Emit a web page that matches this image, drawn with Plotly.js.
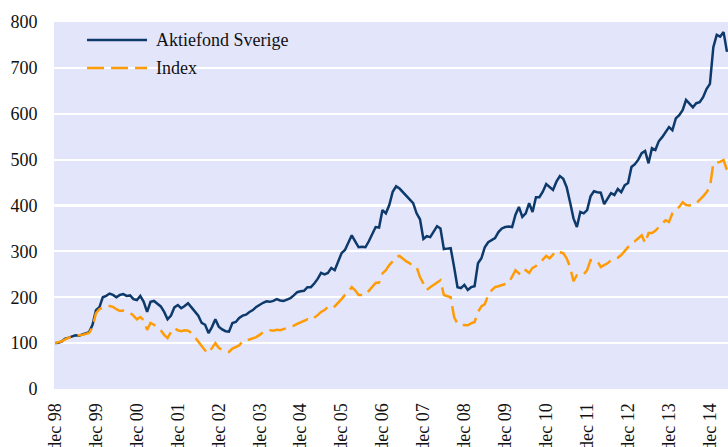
<!DOCTYPE html>
<html>
<head>
<meta charset="utf-8">
<script src="https://cdn.plot.ly/plotly-3.0.1.min.js"></script>
<style>html,body{margin:0;padding:0;background:#fff;}#chart{width:728px;height:447px;}</style>
</head>
<body>
<div id="chart"></div>
<script>
// Month index 0 = dec 98
const seriesNames = ["Aktiefond Sverige", "Index"];
const tickMonths = [0,12,24,36,48,60,72,84,96,108,120,132,144,156,168,180,192];
const tickLabels = ["dec 98","dec 99","dec 00","dec 01","dec 02","dec 03","dec 04","dec 05","dec 06","dec 07","dec 08","dec 09","dec 10","dec 11","dec 12","dec 13","dec 14"];

const fund = [
100,101,104,110,112,115,117,116,119,121,124,140,
172,178,200,203,208,205,200,205,207,203,204,196,
194,203,190,168,190,192,186,180,168,152,160,178,
183,176,181,187,178,170,160,144,140,122,135,152,
136,130,126,125,144,146,155,160,162,168,172,179,
184,188,191,190,192,196,193,192,195,198,204,211,
213,214,222,222,230,240,253,250,253,264,259,278,
296,303,320,335,322,309,310,309,322,338,353,352,
390,383,401,430,442,437,429,420,412,405,383,370,
327,333,331,344,355,350,305,306,307,266,222,220,
227,216,222,224,274,285,309,320,325,329,342,350,
353,354,353,380,397,375,383,405,386,418,418,430,
447,440,434,452,464,458,440,407,372,353,386,383,
390,420,431,429,428,403,415,427,423,436,429,444,
449,484,490,500,514,519,492,525,521,540,549,560,
571,564,590,597,608,630,621,614,623,625,636,654,
665,745,772,768,778,735
];

const index = [
100,102,104,108,112,114,116,117,118,120,122,135,
165,174,178,181,181,179,174,170,171,168,166,160,
152,157,150,129,144,140,135,128,118,111,124,133,
128,126,128,127,122,113,104,94,84,78,90,100,
90,85,82,81,88,92,95,104,107,108,111,113,
118,124,126,128,127,129,128,130,133,136,138,142,
145,148,152,150,155,161,168,172,179,176,180,187,
196,205,212,222,215,205,205,205,214,222,231,232,
252,259,270,278,288,290,283,278,274,268,266,244,
230,216,222,227,233,237,205,203,200,157,142,140,
139,139,143,146,168,180,185,205,215,222,224,227,
229,231,246,259,252,248,259,253,264,268,274,282,
290,285,292,301,298,296,285,266,235,248,248,250,
259,281,280,279,266,270,274,281,283,286,292,300,
308,318,322,329,335,318,340,340,345,353,360,368,
364,383,390,397,407,401,400,401,405,412,420,429,
440,492,494,495,499,477
];

const months = fund.map((_, i) => i);

const fundColor = "#0d3a6b";
const indexColor = "#ff9c05";
const fontFamily = "Liberation Serif, Times New Roman, serif";

const traces = [
  {x: months, y: fund, name: seriesNames[0], type: "scatter", mode: "lines",
   line: {color: fundColor, width: 2.5}, showlegend: false, cliponaxis: true},
  {x: months, y: index, name: seriesNames[1], type: "scatter", mode: "lines",
   line: {color: indexColor, width: 2.5, dash: "17px,7px"}, showlegend: false, cliponaxis: true}
];

const layout = {
  width: 728, height: 447,
  margin: {l: 54, r: 0, t: 22, b: 58, pad: 0},
  paper_bgcolor: "#ffffff",
  plot_bgcolor: "#e3e5fb",
  font: {family: fontFamily, size: 18, color: "#111111"},
  xaxis: {
    range: [-0.3, 197.3],
    tickmode: "array", tickvals: tickMonths, ticktext: tickLabels,
    tickangle: -90, showgrid: false, zeroline: false, showline: false,
    ticks: "outside", ticklen: 6, tickcolor: "rgba(0,0,0,0)",
    tickfont: {family: fontFamily, size: 18, color: "#111111"}
  },
  yaxis: {
    range: [0, 800], tickmode: "array",
    tickvals: [0,100,200,300,400,500,600,700,800],
    showgrid: true, gridcolor: "#ffffff", gridwidth: 2.2,
    zeroline: false, showline: false,
    ticks: "outside", ticklen: 12, tickcolor: "rgba(0,0,0,0)",
    tickfont: {family: fontFamily, size: 18, color: "#111111"}
  },
  shapes: [
    {type: "line", xref: "paper", yref: "paper", x0: 0.049, x1: 0.138, y0: 0.951, y1: 0.951,
     line: {color: fundColor, width: 2.5}},
    {type: "line", xref: "paper", yref: "paper", x0: 0.049, x1: 0.138, y0: 0.875, y1: 0.875,
     line: {color: indexColor, width: 2.5, dash: "17px,7px"}}
  ],
  annotations: [
    {xref: "paper", yref: "paper", x: 0.148, y: 0.951, xanchor: "left", yanchor: "middle",
     text: seriesNames[0], showarrow: false, font: {family: fontFamily, size: 18, color: "#111111"}},
    {xref: "paper", yref: "paper", x: 0.148, y: 0.875, xanchor: "left", yanchor: "middle",
     text: seriesNames[1], showarrow: false, font: {family: fontFamily, size: 18, color: "#111111"}}
  ]
};

Plotly.newPlot("chart", traces, layout, {displayModeBar: false, staticPlot: true});
</script>
</body>
</html>
